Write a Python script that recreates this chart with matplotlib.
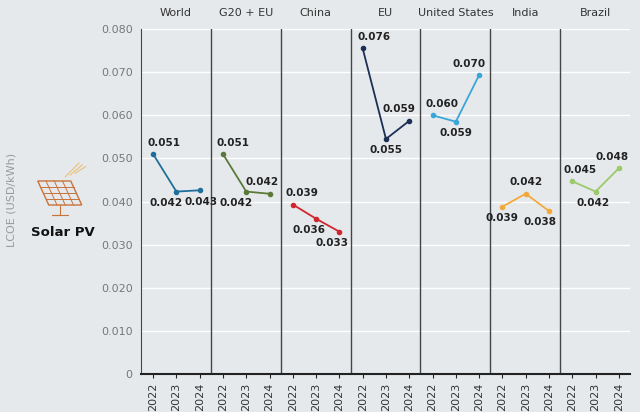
import numpy as np
import matplotlib.pyplot as plt
from matplotlib.patches import Polygon

regions = ["World", "G20 + EU", "China", "EU", "United States", "India", "Brazil"]
years = ["2022", "2023", "2024"]
values = [
    [0.0510, 0.0423, 0.0426],
    [0.0510, 0.0423, 0.0418],
    [0.0393, 0.0360, 0.0330],
    [0.0755, 0.0545, 0.0587],
    [0.0600, 0.0585, 0.0693],
    [0.0388, 0.0418, 0.0378],
    [0.0447, 0.0423, 0.0477],
]
labels = [
    ["0.051", "0.042", "0.043"],
    ["0.051", "0.042", "0.042"],
    ["0.039", "0.036", "0.033"],
    ["0.076", "0.055", "0.059"],
    ["0.060", "0.059", "0.070"],
    ["0.039", "0.042", "0.038"],
    ["0.045", "0.042", "0.048"],
]
colors = ["#1f6f9a", "#5b7a3a", "#d0262e", "#1c2f55", "#3aa6d8", "#f2a93b", "#9cc96b"]
# label placement: 1 = above, -1 = below; dx = horizontal shift in x units
place = [
    [1, -1, -1],
    [1, -1, 1],
    [1, -1, -1],
    [1, -1, 1],
    [1, -1, 1],
    [-1, 1, -1],
    [1, -1, 1],
]
shift = [
    [0.45, -0.45, 0.05],
    [0.45, -0.45, -0.3],
    [0.4, -0.3, -0.3],
    [0.5, 0.0, -0.45],
    [0.4, 0.0, -0.45],
    [0.0, 0.0, -0.4],
    [0.35, -0.1, -0.3],
]

bg = "#e6e9ec"
fig = plt.figure(figsize=[6.4, 4.12], dpi=100, facecolor=bg)
ax = fig.add_axes([141/640, 1-374/412, 489/640, 345/412])
ax.set_facecolor(bg)
ax.set_xlim(0, 21)
ax.set_ylim(0, 0.08)
ax.set_yticks(np.arange(0, 0.081, 0.01))
ax.set_yticklabels(["0"] + ["%.3f" % v for v in np.arange(0.01, 0.081, 0.01)],
                   color="#777777", fontsize=8)
ax.grid(axis="y", color="white", linewidth=1)
ax.set_axisbelow(True)
for s in ["top", "right"]:
    ax.spines[s].set_visible(False)
ax.spines["left"].set_color("#444444")
ax.spines["bottom"].set_color("#222222")
ax.spines["bottom"].set_linewidth(1.5)
ax.tick_params(axis="y", length=0, pad=6)

xt = []
for k, reg in enumerate(regions):
    x = [3*k + j + 0.52 for j in range(3)]
    xt += x
    ax.plot(x, values[k], color=colors[k], marker="o", markersize=3, linewidth=1.3)
    for j in range(3):
        dy = 0.0015 if place[k][j] > 0 else -0.0015
        ax.text(x[j] + shift[k][j], values[k][j] + dy, labels[k][j], ha="center",
                va="bottom" if dy > 0 else "top", fontsize=7.5, fontweight="bold", color="#222222")
    if k > 0:
        ax.axvline(3*k, color="#444444", linewidth=1)
    ax.text(3*k + 1.5, 0.0838, reg, ha="center", va="center", fontsize=8, color="#333333")
ax.set_xticks(xt)
ax.set_xticklabels(years * len(regions), rotation=90, fontsize=8, color="#333333")
ax.tick_params(axis="x", length=3, color="#222222")

fig.text(12/640, 1-200/412, "LCOE (USD/kWh)", rotation=90, ha="center", va="center",
         fontsize=8, color="#999999")
fig.text(63/640, 1-233/412, "Solar PV", ha="center", va="center", fontsize=9.5, fontweight="bold",
         color="#111111")

# simple solar panel icon
ic = fig.add_axes([35/640, 1-220/412, 55/640, 60/412])
ic.set_xlim(0, 10); ic.set_ylim(0, 10); ic.axis("off")
orange = "#c8733a"
ic.add_patch(Polygon([[0.5, 6.5], [6.5, 6.5], [8.5, 2.5], [2.5, 2.5]], fill=False, ec=orange, lw=1))
for t in np.linspace(0, 1, 5)[1:-1]:
    ic.plot([0.5 + 2*t, 6.5 + 2*t], [6.5 - 4*t, 6.5 - 4*t], color=orange, lw=0.7)
for t in np.linspace(0, 1, 5)[1:-1]:
    ic.plot([0.5 + 6*t, 2.5 + 6*t], [6.5, 2.5], color=orange, lw=0.7)
ic.plot([4.5, 4.5, 3, 6], [2.5, 0.8, 0.8, 0.8], color=orange, lw=0.8)
for i in range(3):
    ic.plot([5.5 + i*0.9, 8 + i*0.6], [7.2 + i*0.3, 9.5 - i*0.3], color="#e9c27a", lw=0.8)

fig.savefig("out.png", dpi=100, facecolor=bg)
